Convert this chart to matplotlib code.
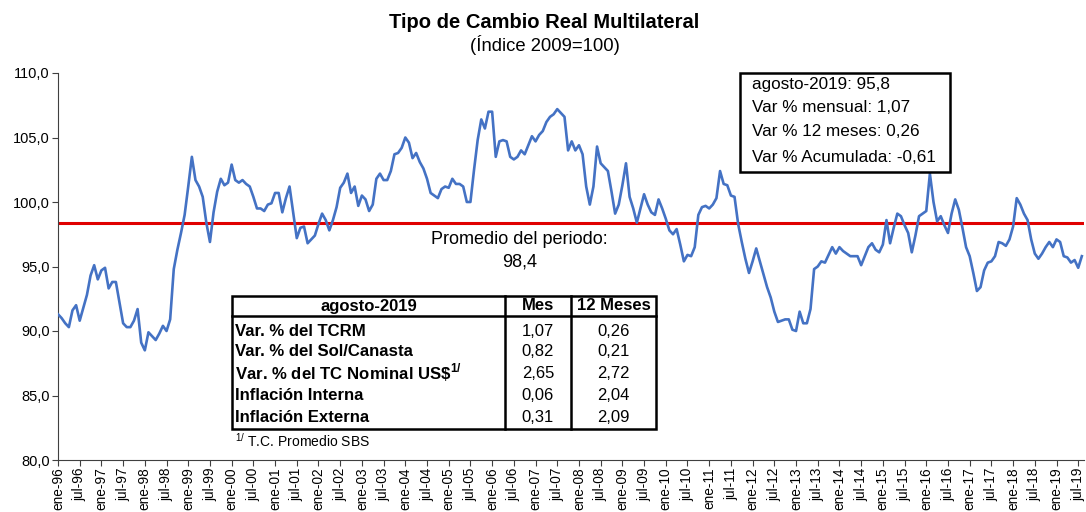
import numpy as np
import pandas as pd
import matplotlib
matplotlib.use("Agg")
import matplotlib.pyplot as plt
from matplotlib.patches import Rectangle

plt.rcParams['font.family'] = ['Liberation Sans', 'DejaVu Sans']
plt.rcParams['mathtext.fontset'] = 'custom'
plt.rcParams['mathtext.rm'] = 'Liberation Sans'
plt.rcParams['mathtext.bf'] = 'Liberation Sans:bold'

# --- datos: TCRM mensual ene-1996 ... ago-2019 (indice 2009=100) ---
tcrm = [
    91.3, 91.0, 90.6, 90.3, 91.6, 92.0, 90.8, 91.8, 92.8, 94.3,
    95.1, 94.0, 94.7, 94.9, 93.3, 93.8, 93.8, 92.2, 90.6, 90.3,
    90.3, 90.8, 91.7, 89.1, 88.5, 89.9, 89.6, 89.3, 89.8, 90.4,
    90.0, 90.9, 94.8, 96.3, 97.6, 99.0, 101.2, 103.5, 101.7, 101.2,
    100.4, 98.4, 96.9, 99.2, 100.8, 101.8, 101.3, 101.5, 102.9, 101.7,
    101.5, 101.7, 101.4, 101.2, 100.4, 99.5, 99.5, 99.3, 99.8, 99.9,
    100.7, 100.7, 99.2, 100.3, 101.2, 99.2,
    97.2, 98.0, 98.1, 96.8, 97.1, 97.4, 98.3, 99.1, 98.6, 97.8,
    98.6, 99.6, 101.1, 101.5, 102.2, 100.7, 101.2, 99.7, 100.5, 100.2,
    99.3, 99.8, 101.8, 102.2, 101.7, 101.7, 102.4, 103.7, 103.8, 104.2,
    105.0, 104.6, 103.4, 103.8, 103.1, 102.6, 101.8, 100.7, 100.5, 100.3,
    101.0, 101.2, 101.1, 101.8, 101.4, 101.4, 101.2, 100.0, 100.0, 102.5,
    104.8, 106.4, 105.7, 107.0, 107.0, 103.5, 104.7, 104.8, 104.7, 103.5,
    103.3, 103.5, 104.0, 103.7, 104.4, 105.1, 104.7, 105.2,
    105.5, 106.2, 106.6, 106.8, 107.2, 106.9, 106.6, 104.0, 104.7, 104.0,
    104.4, 103.7, 101.2, 99.8, 101.2,
    104.3, 103.0, 102.7, 102.4, 100.8, 99.1, 99.8, 101.3, 103.0, 100.4,
    99.5, 98.4, 99.5, 100.6, 99.8, 99.2, 99.0, 100.2, 99.5, 98.7,
    97.8, 97.5, 97.9, 96.7, 95.4, 95.9, 95.8, 96.5, 99.0, 99.6,
    99.7, 99.5, 99.8, 100.3, 102.4,
    101.4, 101.3, 100.5, 100.4, 98.3, 96.9, 95.6, 94.5, 95.4, 96.4,
    95.4, 94.4, 93.4, 92.6, 91.5, 90.7, 90.8, 90.9, 90.9, 90.1, 90.0,
    91.5, 90.6, 90.6, 91.7, 94.8, 95.0, 95.4, 95.3, 95.9, 96.5,
    96.0, 96.5, 96.2, 96.0, 95.8, 95.8, 95.8, 95.1, 95.8, 96.5,
    96.8, 96.3, 96.1, 96.7, 98.6, 96.8, 98.0, 99.1, 98.9, 98.2,
    97.6, 96.1, 97.4, 98.9, 99.1, 99.3, 102.2, 100.0, 98.5, 98.9,
    98.2, 97.6, 99.1, 100.2, 99.4, 98.0, 96.5, 95.8, 94.5, 93.1,
    93.4, 94.7, 95.3, 95.4, 95.8, 96.9, 96.8, 96.6, 97.1, 98.1,
    100.3,
    99.8, 99.1, 98.6, 97.1, 96.0, 95.6, 96.0, 96.5, 96.9, 96.5,
    97.1, 96.9, 95.8, 95.7, 95.3, 95.5, 94.9, 95.8,
]
promedio = 98.4
meses = pd.date_range("1996-01-01", periods=len(tcrm), freq="MS")

nombres_mes = {1: "ene", 7: "jul"}
tick_pos = [i for i, d in enumerate(meses) if d.month in (1, 7)]
tick_lab = [f"{nombres_mes[meses[i].month]}-{meses[i].year % 100:02d}" for i in tick_pos]

# cuadro resumen
filas = ["Var. % del TCRM", "Var. % del Sol/Canasta",
         r"Var. % del TC Nominal US\$$^{\mathbf{1/}}$",
         "Inflación Interna", "Inflación Externa"]
var_mes = ["1,07", "0,82", "2,65", "0,06", "0,31"]
var_12m = ["0,26", "0,21", "2,72", "2,04", "2,09"]
recuadro = ["agosto-2019: 95,8", "Var % mensual: 1,07",
            "Var % 12 meses: 0,26", "Var % Acumulada: -0,61"]

W, H = 1086, 512
fig = plt.figure(figsize=(W / 100, H / 100), dpi=100)


def fx(x):
    return x / W


def fy(y):
    return 1 - y / H


ax = fig.add_axes([fx(58), fy(460), fx(1084) - fx(58), fy(73) - fy(460)])
x = np.arange(len(tcrm))
ax.plot(x, tcrm, color="#4472C4", lw=1.9, zorder=3)
ax.axhline(promedio, color="#E00000", lw=2.2, zorder=2)

ax.set_xlim(0, len(tcrm) - 0.4)
ax.set_ylim(80, 110)
ax.set_yticks(np.arange(80, 111, 5))
ax.set_yticklabels([f"{v:.1f}".replace(".", ",") for v in np.arange(80, 111, 5)], fontsize=10.5)
ax.set_xticks(tick_pos)
ax.set_xticklabels(tick_lab, rotation=90, fontsize=9.8)
ax.tick_params(direction="out", length=4, width=0.8, color="#404040", pad=2)
ax.tick_params(axis="x", pad=1.5)
for s in ["top", "right"]:
    ax.spines[s].set_visible(False)
for s in ["left", "bottom"]:
    ax.spines[s].set_color("#404040")
    ax.spines[s].set_linewidth(0.8)

# titulos
fig.text(fx(544), fy(22), "Tipo de Cambio Real Multilateral", ha="center", va="center",
         fontsize=14.5, fontweight="bold")
fig.text(fx(545), fy(45), "(Índice 2009=100)", ha="center", va="center", fontsize=13.3)

fig.text(fx(519), fy(240), "Promedio del periodo:", ha="center", va="center", fontsize=13)
fig.text(fx(520), fy(262), "98,4", ha="center", va="center", fontsize=13)

# recuadro superior derecho
fig.add_artist(Rectangle((fx(740), fy(172)), fx(950) - fx(740), fy(73) - fy(172),
                         transform=fig.transFigure, fill=True, facecolor="white",
                         edgecolor="black", lw=1.8, zorder=5))
for txt, yy in zip(recuadro, [85, 108, 131, 157]):
    fig.text(fx(752), fy(yy), txt, ha="left", va="center", fontsize=12.3, zorder=6)

# tabla
cx = [232, 505, 571, 656]
top, head, bot = 296, 316, 429
fig.add_artist(Rectangle((fx(cx[0]), fy(bot)), fx(cx[3]) - fx(cx[0]), fy(top) - fy(bot),
                         transform=fig.transFigure, facecolor="white", edgecolor="black",
                         lw=1.8, zorder=5))
fig.add_artist(plt.Line2D([fx(cx[0]), fx(cx[3])], [fy(head), fy(head)],
                          transform=fig.transFigure, color="black", lw=1.8, zorder=6))
for c in cx[1:3]:
    fig.add_artist(plt.Line2D([fx(c), fx(c)], [fy(top), fy(bot)],
                              transform=fig.transFigure, color="black", lw=1.8, zorder=6))

fig.text(fx((cx[0] + cx[1]) / 2), fy(306), "agosto-2019", ha="center", va="center",
         fontsize=12, fontweight="bold", zorder=7)
fig.text(fx((cx[1] + cx[2]) / 2), fy(306), "Mes", ha="center", va="center",
         fontsize=12, fontweight="bold", zorder=7)
fig.text(fx((cx[2] + cx[3]) / 2), fy(306), "12 Meses", ha="center", va="center",
         fontsize=12, fontweight="bold", zorder=7)
for yy, f, m, a in zip([331, 352, 373, 395, 417], filas, var_mes, var_12m):
    fig.text(fx(cx[0] + 3), fy(yy), f, ha="left", va="center", fontsize=12.1,
             fontweight="bold", zorder=7)
    fig.text(fx((cx[1] + cx[2]) / 2), fy(yy), m, ha="center", va="center", fontsize=12, zorder=7)
    fig.text(fx((cx[2] + cx[3]) / 2), fy(yy), a, ha="center", va="center", fontsize=12, zorder=7)
fig.text(fx(235), fy(441), r"$^{1/}$ T.C. Promedio SBS", ha="left", va="center", fontsize=10)

fig.savefig("out.png", dpi=100)
